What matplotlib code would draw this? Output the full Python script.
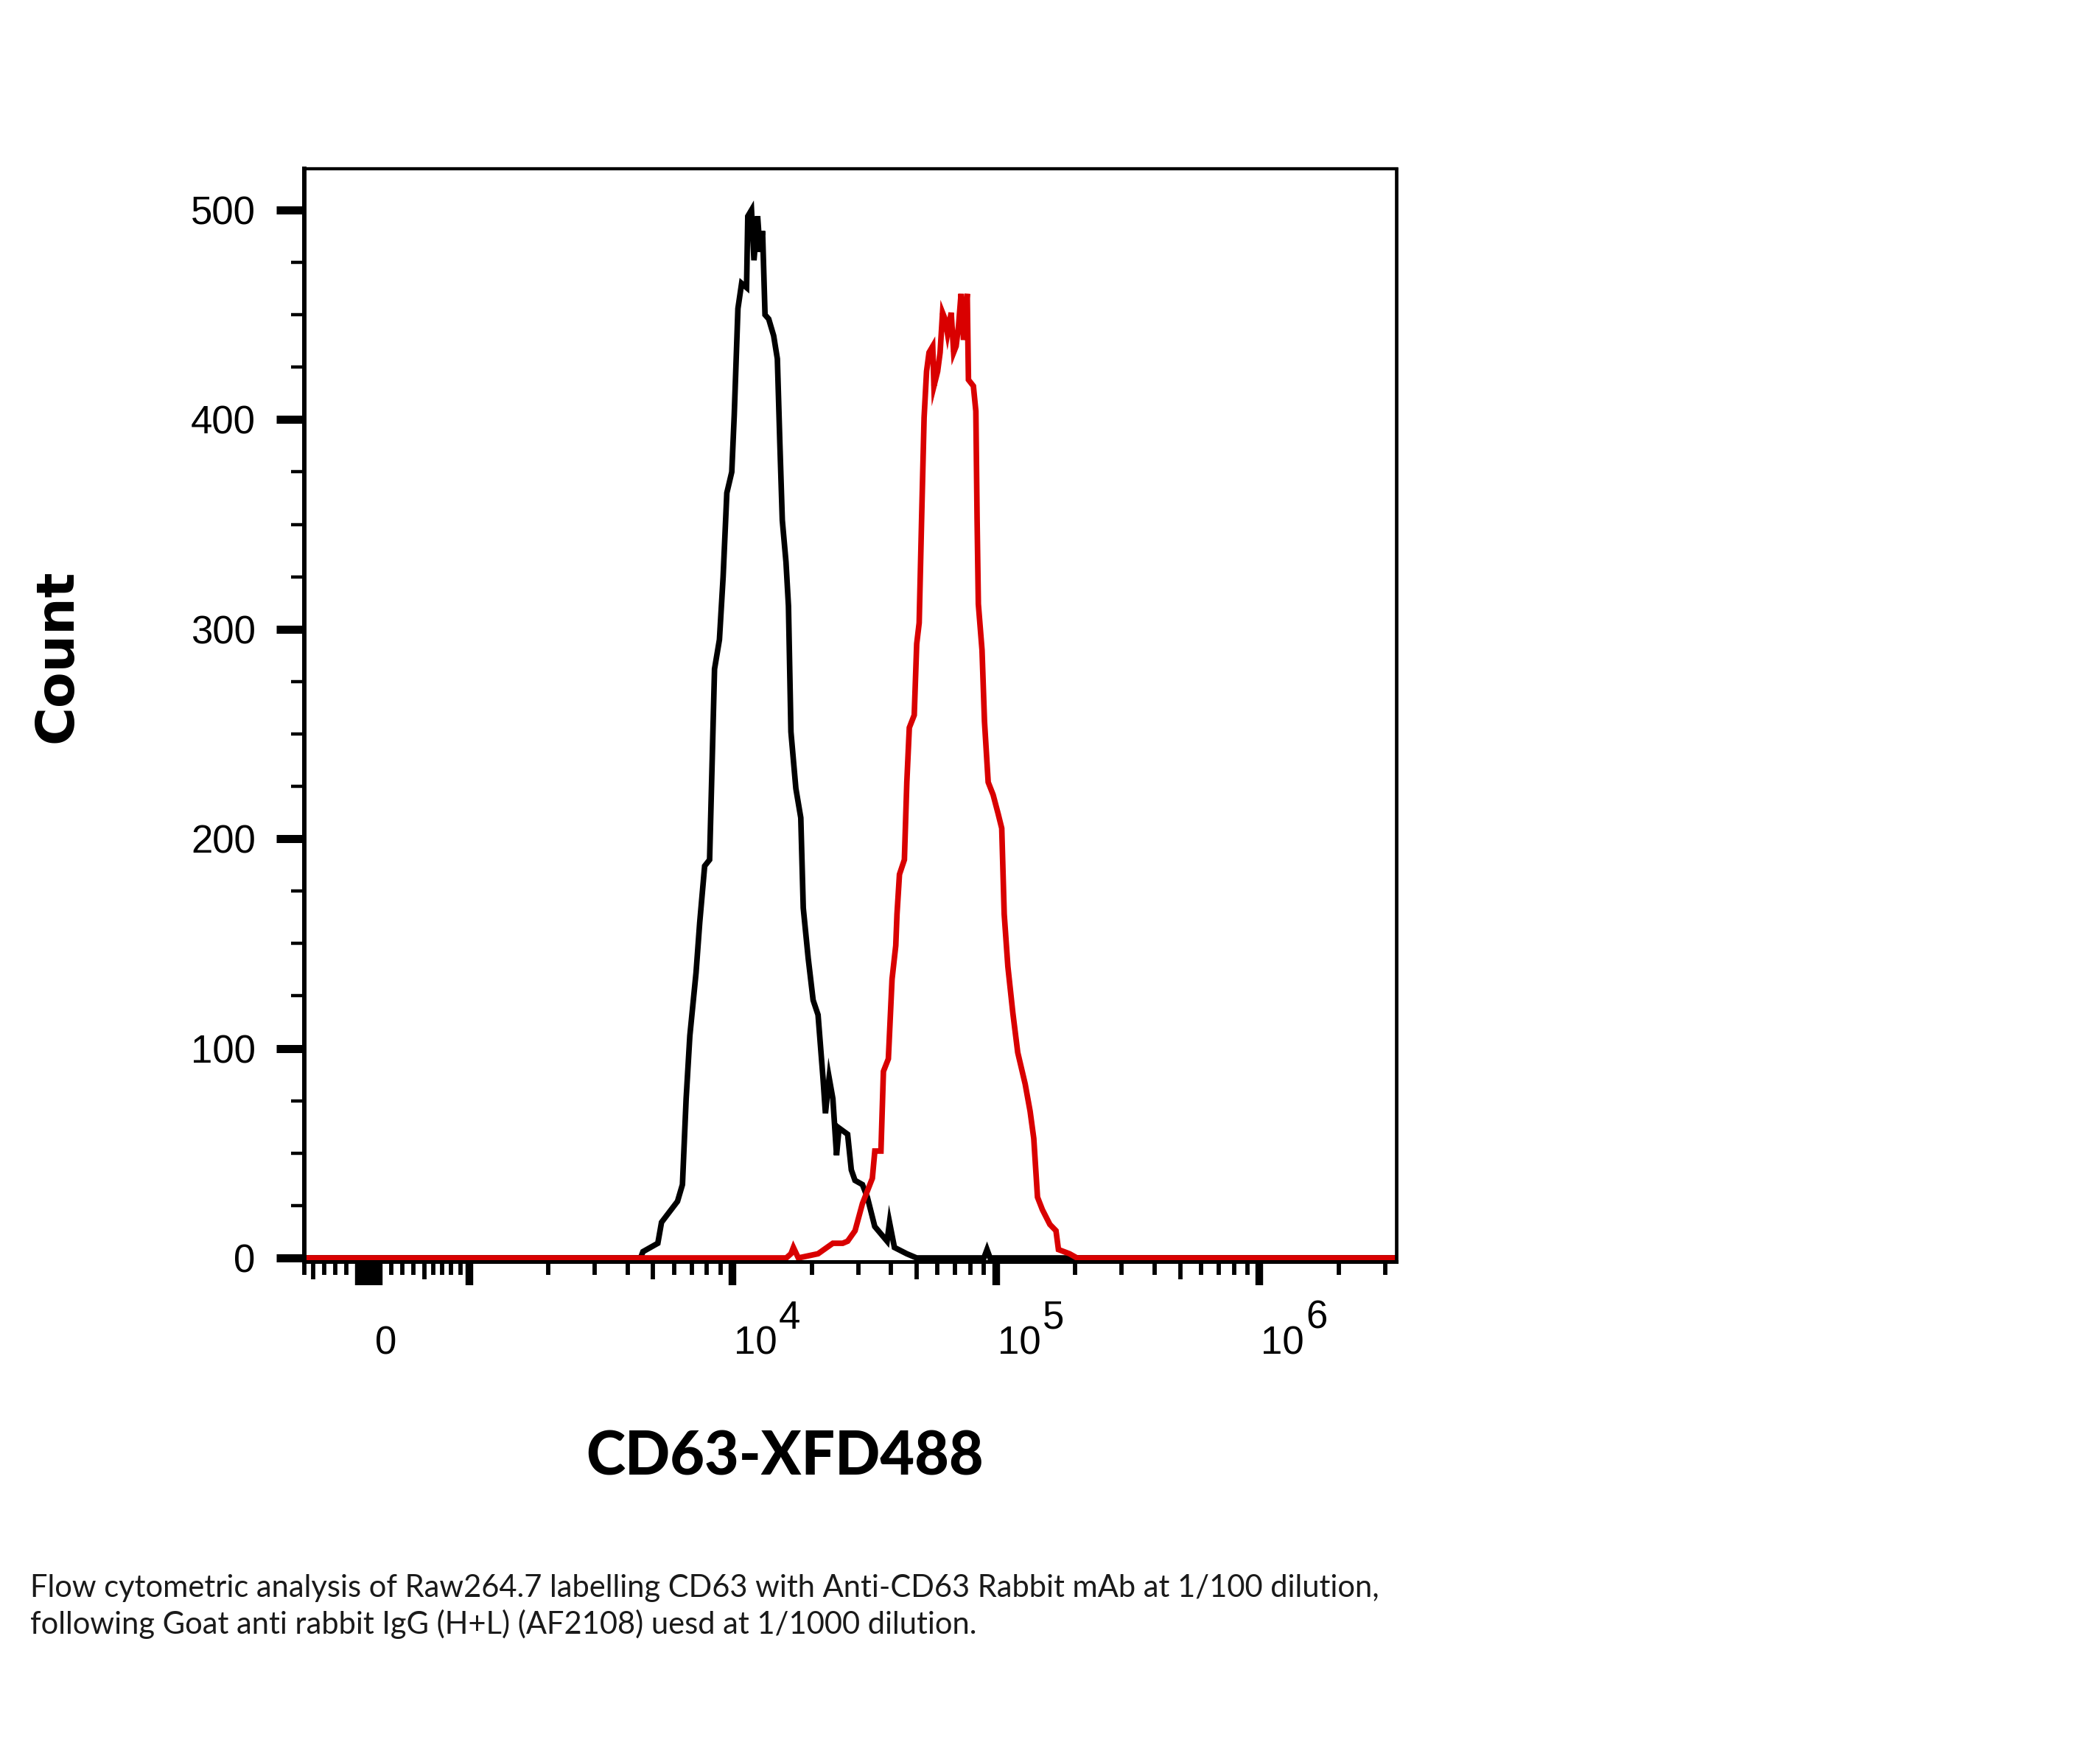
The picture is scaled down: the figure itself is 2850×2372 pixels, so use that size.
import numpy as np
import matplotlib
matplotlib.use("Agg")
import matplotlib.pyplot as plt
import matplotlib.ticker as mticker
import matplotlib.transforms as mtransforms

# isotype-free control (black) and CD63 stained (red) histograms
black_x = [-600, 4400, 4477, 4571, 5206, 5377, 6183, 6456, 6668, 6887, 7270, 7508, 7839, 8185,
           8359, 8546, 8920, 9213, 9516, 9936, 10152, 10486, 10829, 11306, 11429, 11806,
           12062, 12455, 12725, 13003, 13287, 13723, 14330, 14800, 15124, 15453, 15960,
           16309, 16665, 17398, 18164, 18560, 19380, 20230, 21120, 22050, 22530, 23270,
           24040, 24830, 25370, 27350, 28250, 29170, 31130, 32500, 34670, 38620, 39450,
           41180, 45860, 50000, 90000, 92500, 95000, 3.31e6]
black_y = [0, 0, 0, 3, 7, 17, 27, 35, 76, 106, 136, 160, 187, 190,
           234, 281, 295, 325, 365, 375, 402, 453, 465, 463, 497, 500,
           476, 497, 480, 490, 450, 448, 440, 429, 389, 352, 332,
           311, 251, 224, 210, 167, 143, 123, 116, 86, 69, 86,
           76, 49, 62, 59, 42, 37, 35, 29, 15, 8, 17,
           5, 2, 0, 0, 4, 0, 0]

red_x = [-600, 16000, 16665, 17025, 17776, 21120, 24040, 26200, 27360, 29190, 31140, 32520,
         33950, 34690, 36600, 37400, 39050, 40330, 41660, 42110, 43030, 44920, 45890,
         46900, 48960, 50030, 51120, 52230, 53370, 54530, 55720, 57540, 58160, 60070,
         61380, 62710, 64080, 65480, 67630, 69100, 70600, 72140, 73710, 75320, 77800,
         78640, 82110, 83900, 84800, 85750, 88550, 90470, 93440, 97560, 101900, 105200,
         107500, 111000, 115900, 121000, 129100, 134800, 139200, 143800, 150100, 160200,
         169000, 172700, 190200, 203000, 3.31e6]
red_y = [0, 0, 2, 5, 0, 2, 7, 7, 8, 13, 26, 32,
         38, 51, 51, 89, 95, 133, 149, 164, 183, 190, 227,
         253, 259, 293, 303, 353, 401, 423, 432, 435, 416, 423,
         432, 451, 448, 441, 451, 432, 435, 445, 460, 438, 460,
         419, 416, 404, 353, 312, 290, 256, 227, 221, 212, 205,
         164, 139, 117, 98, 83, 70, 57, 29, 23, 16,
         13, 4, 2, 0, 0]

y_major = [0, 100, 200, 300, 400, 500]
y_minor = [25, 50, 75, 125, 150, 175, 225, 250, 275, 325, 350, 375, 425, 450, 475]
x_block = [-90, -60, -30, 0, 30, 60, 90]
x_major = [1e3, 1e4, 1e5, 1e6]
x_mid = [-500, 500, 5e3, 5e4, 5e5]
x_minor = [-600, -400, -300, -200, 200, 300, 400, 600, 700, 800, 900]
for dec in [1e3, 1e4, 1e5]:
    x_minor += [k * dec for k in [2, 3, 4, 6, 7, 8, 9]]
x_minor += [2e6, 3e6]
x_labels = [(0, "0", None), (1e4, "10", "4"), (1e5, "10", "5"), (1e6, "10", "6")]

caption1 = "Flow cytometric analysis of Raw264.7 labelling CD63 with Anti-CD63 Rabbit mAb at 1/100 dilution,"
caption2 = "following Goat anti rabbit IgG (H+L) (AF2108) uesd at 1/1000 dilution."

# biexponential-like display scale (linear near 0, log above 1000)
ZP = [-1000, -500, 0, 500, 1000]
ZV = [-136.0, -75.5, 0.0, 75.5, 136.0]
DEC = 357.5


def fwd(x):
    x = np.asarray(x, dtype=float)
    a = np.abs(x)
    lin = np.interp(x, ZP, ZV)
    lg = np.sign(x) * (136.0 + DEC * np.log10(np.maximum(a, 1000.0) / 1000.0))
    return np.where(a <= 1000, lin, lg)


def inv(p):
    p = np.asarray(p, dtype=float)
    a = np.abs(p)
    lin = np.interp(p, ZV, ZP)
    lg = np.sign(p) * 1000.0 * 10 ** (np.clip(a - 136.0, 0, 5000) / DEC)
    return np.where(a <= 136.0, lin, lg)


num_font = "Liberation Sans"

fig = plt.figure(figsize=(28.5, 23.72), dpi=100)
ax = fig.add_axes([0.14491, 0.27804, 0.52000, 0.62521])

ax.plot(black_x, black_y, color="black", lw=5.5, solid_joinstyle="miter")
ax.plot(red_x, red_y, color="#d90000", lw=5.5, solid_joinstyle="miter")

ax.set_xscale("function", functions=(fwd, inv))
ax.set_xlim(-600, 3.31e6)
ax.set_ylim(-1.93, 519.5)

ax.spines["left"].set_linewidth(4.3)
ax.spines["bottom"].set_linewidth(3.6)
ax.spines["top"].set_linewidth(3.1)
ax.spines["right"].set_linewidth(3.4)

# y axis
ax.yaxis.set_major_locator(mticker.FixedLocator(y_major))
ax.yaxis.set_minor_locator(mticker.FixedLocator(y_minor))
ax.set_yticklabels([str(v) for v in y_major], fontfamily=num_font, fontsize=38)
ax.tick_params(axis="y", which="major", length=27.7, width=7.9, pad=20)
ax.tick_params(axis="y", which="minor", length=12.8, width=3.2)

# x axis
ax.xaxis.set_major_locator(mticker.FixedLocator(x_block + x_major))
ax.xaxis.set_minor_locator(mticker.FixedLocator(x_minor))
ax.xaxis.set_major_formatter(mticker.NullFormatter())
ax.xaxis.set_minor_formatter(mticker.NullFormatter())
ax.tick_params(axis="x", which="major", length=23.3, width=7.5)
ax.tick_params(axis="x", which="minor", length=12.6, width=4.2)
ax.plot(x_mid, np.zeros(len(x_mid)), ls="none", marker=3, ms=17, mew=4.2, color="black",
        transform=ax.get_xaxis_transform(), clip_on=False)

xt = ax.get_xaxis_transform()
for val, base, sup in x_labels:
    dx = 8 if sup is None else 2
    tr = xt + mtransforms.ScaledTranslation(dx / 100.0, 0, fig.dpi_scale_trans)
    ax.text(val, -0.0846, base, transform=tr, ha="left", va="baseline",
            fontfamily=num_font, fontsize=38)
    if sup is not None:
        tr2 = xt + mtransforms.ScaledTranslation(63 / 100.0, 0, fig.dpi_scale_trans)
        ax.text(val, -0.0610, sup, transform=tr2, ha="left", va="baseline",
                fontfamily=num_font, fontsize=38)

fig.text(0.0275, 0.6248, "Count", rotation=90, ha="center", va="center",
         fontfamily="DejaVu Sans", fontweight="bold", fontsize=51)
fig.text(0.3737, 0.1564, "CD63-XFD488", ha="center", va="baseline",
         fontfamily="Lato", fontweight="black", fontsize=58)
fig.text(0.0145, 1 - 2167 / 2372, caption1, ha="left", va="baseline",
         fontfamily="Lato", fontsize=30, color="#1a1a1a")
fig.text(0.0145, 1 - 2217 / 2372, caption2, ha="left", va="baseline",
         fontfamily="Lato", fontsize=30, color="#1a1a1a")

fig.savefig("out.png", dpi=100)
